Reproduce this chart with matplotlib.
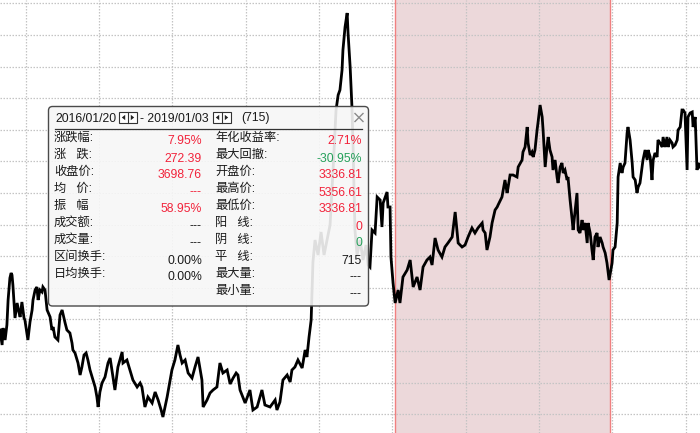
import numpy as np
import matplotlib
matplotlib.use('Agg')
import matplotlib.pyplot as plt
from matplotlib.patches import FancyBboxPatch, Rectangle, Polygon

# ---------------- data (trading-day index, index level) ----------------
days = [0, 7, 10, 17, 23, 27, 33, 37, 40, 43, 50, 57, 63, 67, 73, 80, 83, 93, 100, 107,
        110, 117, 123, 127, 133, 140, 143, 150, 157, 167, 173, 177, 183, 193, 200, 207,
        217, 223, 233, 240, 243, 250, 257, 260, 267, 273, 280, 287, 293, 300, 307, 317,
        323, 327, 333, 340, 350, 360, 367, 373, 383, 393, 407, 410, 423, 433, 443, 457,
        467, 473, 483, 493, 507, 517, 527, 537, 543, 557, 567, 573, 583, 593, 600, 607,
        617, 627, 640, 650, 660, 670, 673, 677, 690, 700, 710, 723, 733, 743, 757, 767,
        777, 787, 793, 800, 817, 833, 843, 857, 873, 883, 900, 917, 923, 933, 943, 957,
        967, 973, 983, 993, 1007, 1017, 1023, 1030, 1037, 1040, 1043, 1050, 1060, 1070,
        1080, 1090, 1100, 1110, 1120, 1127, 1133, 1140, 1143, 1150, 1157, 1160, 1167,
        1173, 1177, 1183, 1190, 1200, 1210, 1220, 1227, 1233, 1240, 1250, 1257, 1267,
        1273, 1277, 1290, 1293, 1300, 1303, 1310, 1317, 1327, 1333, 1343, 1357, 1367,
        1377, 1390, 1400, 1410, 1423, 1433, 1440, 1450, 1460, 1473, 1483, 1493, 1507,
        1517, 1527, 1540, 1550, 1560, 1573, 1583, 1593, 1607, 1610, 1617, 1623, 1633,
        1640, 1650, 1657, 1660, 1673, 1677, 1683, 1690, 1693, 1700, 1710, 1723, 1727,
        1740, 1743, 1750, 1757, 1760, 1767, 1773, 1777, 1783, 1790, 1793, 1800, 1807,
        1810, 1817, 1823, 1827, 1833, 1840, 1843, 1850, 1857, 1860, 1867, 1873, 1877,
        1883, 1890, 1893, 1900, 1907, 1910, 1917, 1923, 1927, 1933, 1940, 1943, 1950,
        1957, 1960, 1967, 1973, 1977, 1983, 1990, 1993, 2000, 2007, 2010, 2017, 2023,
        2027, 2030, 2040, 2043, 2050, 2057, 2060, 2067, 2073, 2077, 2083, 2090, 2093,
        2100, 2107, 2110, 2117, 2123, 2127, 2133, 2143, 2150, 2157, 2160, 2167, 2173,
        2177, 2183, 2190, 2193, 2200, 2207, 2210, 2217, 2223, 2227, 2233, 2240, 2243,
        2250, 2257, 2260, 2267, 2273, 2277, 2283, 2290, 2293, 2300, 2307, 2310, 2317,
        2323, 2327, 2333]

close = [3100, 2950, 3120, 3000, 3150, 3400, 3620, 3670, 3650, 3550, 3220, 3370, 3280, 3230,
         3380, 3220, 3200, 3000, 3180, 3300, 3400, 3500, 3530, 3400, 3500, 3480, 3530, 3500,
         3300, 3230, 3100, 3130, 3030, 3000, 3250, 3300, 3170, 3100, 3070, 2970, 2900, 2870,
         2800, 2770, 2650, 2730, 2850, 2870, 2800, 2700, 2630, 2530, 2430, 2330, 2480, 2570,
         2630, 2770, 2820, 2700, 2500, 2730, 2880, 2770, 2800, 2700, 2600, 2530, 2570, 2530,
         2330, 2430, 2370, 2480, 2400, 2300, 2230, 2430, 2600, 2700, 2800, 2950, 2850, 2770,
         2800, 2670, 2620, 2730, 2830, 2650, 2600, 2330, 2400, 2470, 2500, 2530, 2770, 2670,
         2700, 2560, 2620, 2670, 2650, 2500, 2370, 2500, 2300, 2330, 2500, 2350, 2330, 2400,
         2300, 2380, 2600, 2650, 2580, 2700, 2730, 2800, 2720, 2900, 2830, 3030, 3200, 3500,
         3780, 4000, 3850, 4080, 3850, 4000, 4150, 4700, 5300, 5450, 5500, 5700, 5900, 6130,
         6270, 6070, 5730, 5330, 4900, 4100, 3850, 4000, 3800, 3950, 3750, 3730, 4100, 4070,
         4430, 4400, 4130, 4370, 4480, 4330, 4330, 3830, 3570, 3370, 3500, 3370, 3630, 3700,
         3800, 3530, 3630, 3500, 3730, 3800, 3830, 3750, 4020, 3900, 3830, 3930, 3970, 4030,
         4280, 3970, 3930, 3950, 4030, 4120, 4070, 4120, 4170, 4100, 4070, 3900, 4030, 4170,
         4300, 4330, 4350, 4430, 4500, 4600, 4470, 4520, 4650, 4650, 4630, 4730, 4800, 4880,
         4930, 5130, 4970, 4850, 4880, 4830, 4900, 5100, 5170, 5350, 5230, 5100, 4730, 4930,
         5030, 4900, 4830, 4700, 4800, 4620, 4570, 4730, 4770, 4670, 4700, 4600, 4630, 4400,
         4200, 4100, 4300, 4470, 4100, 4070, 4200, 4100, 4170, 3970, 4170, 4070, 3900, 3800,
         4030, 4070, 3930, 4030, 3970, 3930, 3870, 3770, 3670, 3600, 3770, 3900, 3930, 4170,
         4630, 4770, 4670, 4730, 4770, 5070, 5130, 5000, 4770, 4630, 4600, 4470, 4530, 4570,
         4800, 4900, 4800, 4900, 4830, 4600, 4800, 4870, 4830, 5000, 4970, 4930, 5030, 4930,
         5030, 4930, 5000, 4970, 4930, 4950, 5000, 5100, 5130, 5300, 5300, 5270, 4700, 5230,
         5270, 5280, 5130, 5230, 4700, 4770, 4730]

span_start, span_end = 1317, 2033

header_start = '2016/01/20'
header_end = '2019/01/03'
header_count = '(715)'

left_labels = ['涨跌幅:', '涨   跌:', '收盘价:', '均   价:', '振   幅',
               '成交额:', '成交量:', '区间换手:', '日均换手:']
left_values = ['7.95%', '272.39', '3698.76', '---', '58.95%', '---', '---', '0.00%', '0.00%']
left_kinds = ['up', 'up', 'up', 'up', 'up', 'flat', 'flat', 'flat', 'flat']

right_labels = ['年化收益率:', '最大回撤:', '开盘价:', '最高价:', '最低价:',
                '阳   线:', '阴   线:', '平   线:', '最大量:', '最小量:']
right_values = ['2.71%', '-30.95%', '3336.81', '5356.61', '3336.81', '0', '0', '715', '---', '---']
right_kinds = ['up', 'down', 'up', 'up', 'up', 'up', 'down', 'flat', 'flat', 'flat']

# ---------------- styling ----------------
FONT = ['Liberation Sans', 'Noto Sans CJK SC', 'DejaVu Sans']
plt.rcParams['font.family'] = FONT
COL = {'up': '#f2233b', 'down': '#25a05a', 'flat': '#1a1a1a'}
W, H = 700, 433

fig = plt.figure(figsize=(7.0, 4.33), dpi=100)
fig.patch.set_facecolor('white')
ax = fig.add_axes([0, 0, 1, 1])
ax.set_xlim(0, 2333)
ax.set_ylim(2070, 6400)

ax.axvspan(span_start, span_end, facecolor='#ecd8da', edgecolor='none', zorder=0.2)
for xv in (span_start, span_end):
    ax.axvline(xv, color='#f08080', lw=1.0, zorder=0.6)

ax.set_xticks(np.arange(86, 2333, 244.4))
ax.set_yticks(np.arange(6367, 2070, -316))
ax.set_axisbelow(True)
ax.grid(True, color='#c4c4c4', lw=0.9, linestyle=(0, (1.2, 1.2)))
ax.tick_params(length=0, labelbottom=False, labelleft=False)
for s in ax.spines.values():
    s.set_visible(False)

ax.plot(days, close, color='black', lw=2.0, zorder=2, solid_joinstyle='miter')

# ---------------- tooltip panel (pixel overlay) ----------------
ov = fig.add_axes([0, 0, 1, 1])
ov.set_xlim(0, W)
ov.set_ylim(H, 0)
ov.axis('off')

panel = FancyBboxPatch((48.5, 106.5), 320, 199.5,
                       boxstyle='round,pad=0,rounding_size=4',
                       facecolor=(0.97, 0.97, 0.97, 0.9), edgecolor='#4a4a4a', lw=1.0)
ov.add_patch(panel)

fs = 8.8
ty = 118.5
ov.text(55.5, ty, header_start, fontsize=fs, color='#1a1a1a', va='center', ha='left')
ov.text(140.5, ty, '- ' + header_end, fontsize=fs, color='#1a1a1a', va='center', ha='left')
ov.text(241.5, ty, header_count, fontsize=fs, color='#1a1a1a', va='center', ha='left')


def stepper(x0):
    ov.add_patch(Rectangle((x0, 112), 18, 11, facecolor='white', edgecolor='#333333', lw=0.8))
    ov.plot([x0 + 9, x0 + 9], [112, 123], color='#333333', lw=0.8)
    ov.add_patch(Polygon([(x0 + 2.8, 117.5), (x0 + 6.2, 114.8), (x0 + 6.2, 120.2)],
                         closed=True, facecolor='#222222', edgecolor='none'))
    ov.add_patch(Polygon([(x0 + 15.2, 117.5), (x0 + 11.8, 114.8), (x0 + 11.8, 120.2)],
                         closed=True, facecolor='#222222', edgecolor='none'))


stepper(119)
stepper(213)

ov.plot([355, 363], [113.5, 121.5], color='#8a8a8a', lw=1.0)
ov.plot([355, 363], [121.5, 113.5], color='#8a8a8a', lw=1.0)
ov.plot([55, 362], [128.8, 128.8], color='#333333', lw=0.9)

row0_label, row0_value, step = 138.0, 141.5, 17.0
for i, (lab, val, kind) in enumerate(zip(left_labels, left_values, left_kinds)):
    ov.text(54, row0_label + i * step, lab, fontsize=fs, color='#1a1a1a', va='center', ha='left')
    ov.text(202, row0_value + i * step, val, fontsize=fs, color=COL[kind], va='center', ha='right')
for i, (lab, val, kind) in enumerate(zip(right_labels, right_values, right_kinds)):
    ov.text(215, row0_label + i * step, lab, fontsize=fs, color='#1a1a1a', va='center', ha='left')
    ov.text(362, row0_value + i * step, val, fontsize=fs, color=COL[kind], va='center', ha='right')

fig.savefig('out.png', dpi=100, facecolor='white')
